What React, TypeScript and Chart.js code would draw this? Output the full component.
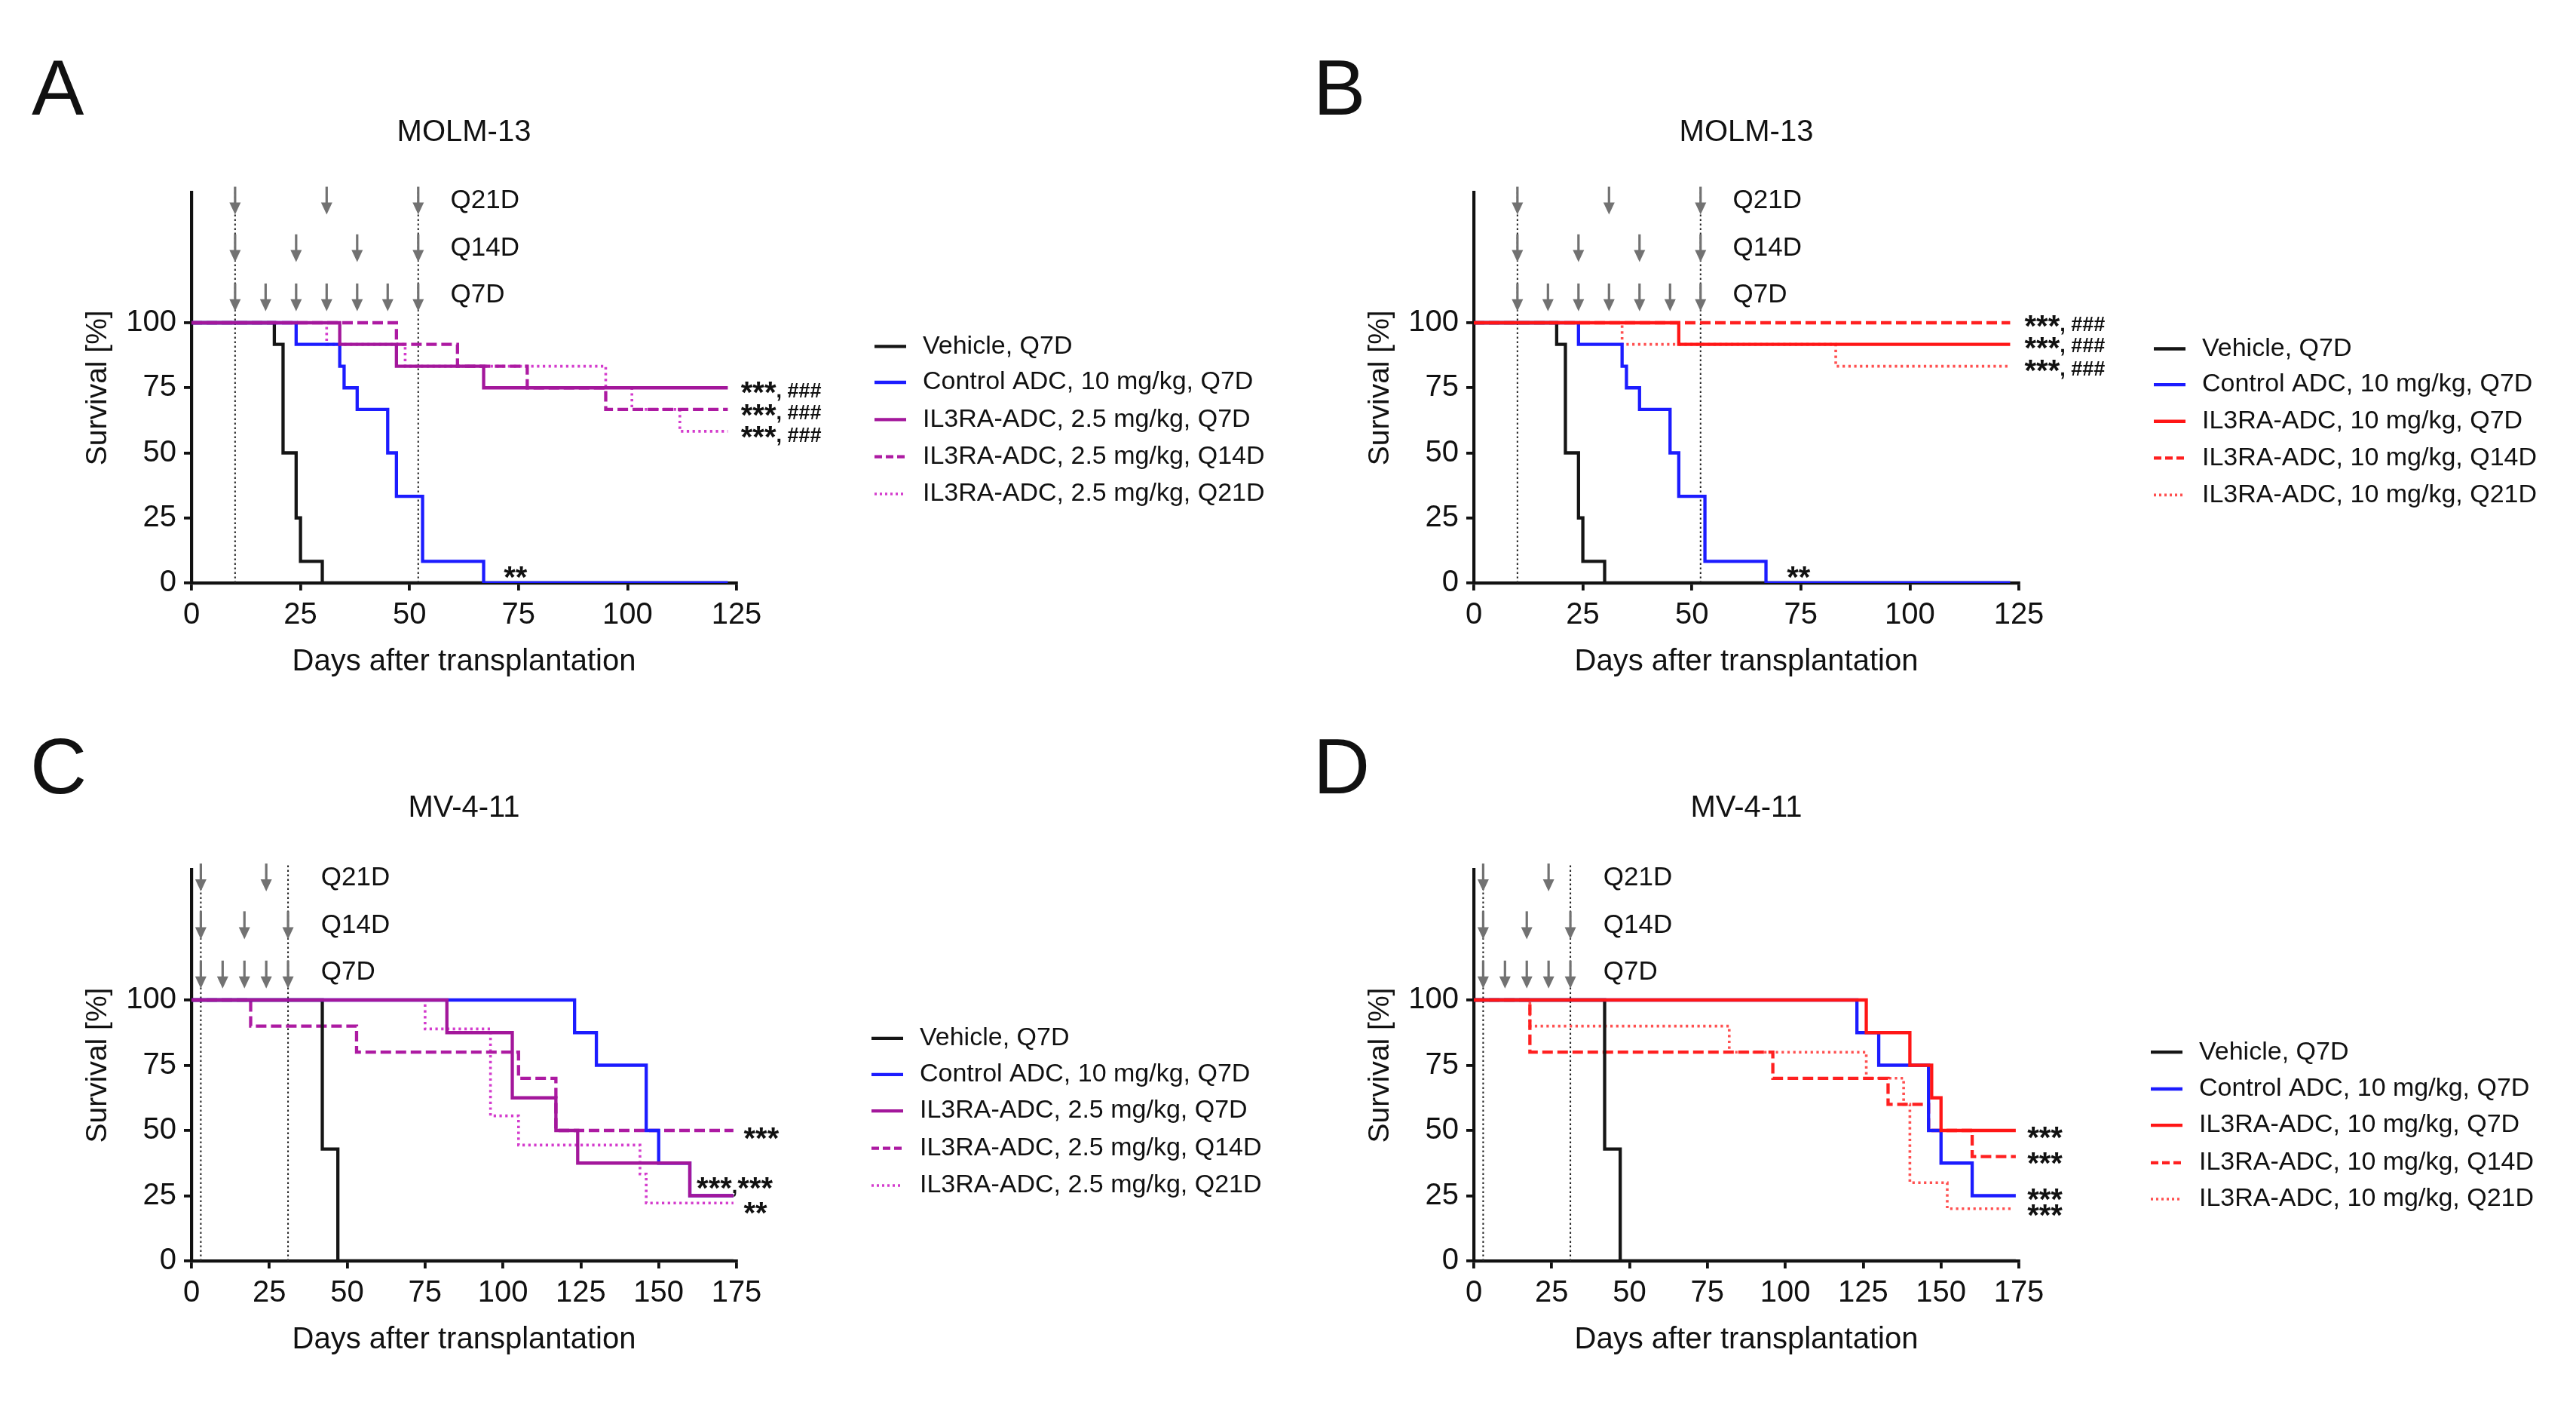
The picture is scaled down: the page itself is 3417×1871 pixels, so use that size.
import React, { useEffect, useRef } from 'react';
import { Chart, registerables } from 'chart.js';

Chart.register(...registerables);

const FONT = "'Liberation Sans', Arial, Helvetica, sans-serif";

// ---------------- DATA ----------------
// Axis ticks
const molmXTicks = [0, 25, 50, 75, 100, 125];
const mvXTicks = [0, 25, 50, 75, 100, 125, 150, 175];
const survivalTicks = [0, 25, 50, 75, 100];

// MOLM-13 (panels A and B)
const molmVehicleDays = [0, 19, 21, 24, 25, 30, 123];
const molmVehicleSurv = [100, 91.7, 50, 25, 8.3, 0, 0];
const molmControlDays = [0, 24, 34, 35, 38, 45, 47, 53, 67, 123];
const molmControlSurv = [100, 91.7, 83.3, 75, 66.7, 50, 33.3, 8.3, 0, 0];
const aQ7Days = [0, 34, 47, 67, 123];
const aQ7Surv = [100, 91.7, 83.3, 75, 75];
const aQ14Days = [0, 47, 61, 77, 95, 123];
const aQ14Surv = [100, 91.7, 83.3, 75, 66.7, 66.7];
const aQ21Days = [0, 31, 49, 95, 101, 112, 123];
const aQ21Surv = [100, 91.7, 83.3, 75, 66.7, 58.3, 58.3];
const bQ7Days = [0, 47, 123];
const bQ7Surv = [100, 91.7, 91.7];
const bQ14Days = [0, 123];
const bQ14Surv = [100, 100];
const bQ21Days = [0, 34, 83, 123];
const bQ21Surv = [100, 91.7, 83.3, 83.3];

// MV-4-11 (panels C and D)
const mvVehicleDays = [0, 42, 47, 174];
const mvVehicleSurv = [100, 42.9, 0, 0];
const mvControlDays = [0, 123, 130, 146, 150, 160, 174];
const mvControlSurv = [100, 87.5, 75, 50, 37.5, 25, 25];
const cQ7Days = [0, 82, 103, 117, 124, 160, 174];
const cQ7Surv = [100, 87.5, 62.5, 50, 37.5, 25, 25];
const cQ14Days = [0, 19, 53, 105, 117, 174];
const cQ14Surv = [100, 90, 80, 70, 50, 50];
const cQ21Days = [0, 75, 96, 105, 144, 146, 174];
const cQ21Surv = [100, 88.9, 55.6, 44.4, 33.3, 22.2, 22.2];
const dQ7Days = [0, 126, 140, 147, 150, 174];
const dQ7Surv = [100, 87.5, 75, 62.5, 50, 50];
const dQ14Days = [0, 18, 96, 133, 146, 160, 174];
const dQ14Surv = [100, 80, 70, 60, 50, 40, 40];
const dQ21Days = [0, 18, 82, 126, 138, 140, 152, 173];
const dQ21Surv = [100, 90, 80, 70, 60, 30, 20, 20];

// Dosing schedules (days)
const scheduleLabels = ['Q21D', 'Q14D', 'Q7D'];
const molmQ21Doses = [10, 31, 52];
const molmQ14Doses = [10, 24, 38, 52];
const molmQ7Doses = [10, 17, 24, 31, 38, 45, 52];
const molmRefDays = [10, 52];
const mvQ21Doses = [3, 24];
const mvQ14Doses = [3, 17, 31];
const mvQ7Doses = [3, 10, 17, 24, 31];
const mvRefDays = [3, 31];

// Legend labels
const lowDoseLabels = [
  'Vehicle, Q7D',
  'Control ADC, 10 mg/kg, Q7D',
  'IL3RA-ADC, 2.5 mg/kg, Q7D',
  'IL3RA-ADC, 2.5 mg/kg, Q14D',
  'IL3RA-ADC, 2.5 mg/kg, Q21D',
];
const highDoseLabels = [
  'Vehicle, Q7D',
  'Control ADC, 10 mg/kg, Q7D',
  'IL3RA-ADC, 10 mg/kg, Q7D',
  'IL3RA-ADC, 10 mg/kg, Q14D',
  'IL3RA-ADC, 10 mg/kg, Q21D',
];

// Significance texts
const sigA = ['***, ###', '***, ###', '***, ###', '**'];
const sigB = ['***, ###', '***, ###', '***, ###', '**'];
const sigC = ['***', '***,***', '**'];
const sigD = ['***', '***', '***', '***'];

// ---------------- STYLES / LAYOUT ----------------
const C_BLACK = '#151515';
const C_BLUE = '#1c1cff';
const C_PURPLE = '#a3179b';
const C_PURPLE_DASH = '#ad1aa2';
const C_PURPLE_DOT = '#d43ccd';
const C_RED = '#ff1616';
const C_RED_DASH = '#ff2020';
const C_RED_DOT = '#ff5050';

const DASH = [14, 6];
const DOT = [3.2, 4.5];
const W_SOLID = 4.3;
const W_DASH = 4.3;
const W_DOT = 3.6;

const YW = 200; // y-axis box width
const ARROW_TIPS = [141.6, 123.3, 104.4];
const ARROW_LEN = 10.7;
const SCHED_LABEL_Y = [146.8, 128.5, 110.6];

type Series = { days: number[]; surv: number[]; color: string; dash: number[]; width: number; order: number };
type Note = { text: string; x: number; y: number };

type Panel = {
  key: string;
  letter: string;
  title: string;
  left: number;
  top: number;
  w: number;
  h: number;
  chartLeft: number;
  chartRight: number;
  chartTop: number;
  chartBottom: number;
  xMax: number;
  xTicks: number[];
  series: Series[];
  labels: string[];
  doses: number[][];
  refDays: number[];
  schedX: number;
  legendRows: number[];
  legendLineX: number;
  notes: Note[];
  letterX: number;
  letterY: number;
  titleY: number;
};

function mkSeries(days: number[], surv: number[], color: string, dash: number[], width: number, order: number): Series {
  return { days, surv, color, dash, width, order };
}

const panels: Panel[] = [
  {
    key: 'A', letter: 'A', title: 'MOLM-13',
    left: 0, top: 0, w: 1708, h: 935,
    chartLeft: 254, chartRight: 977, chartTop: 255.5, chartBottom: 773,
    xMax: 125, xTicks: molmXTicks,
    series: [
      mkSeries(molmVehicleDays, molmVehicleSurv, C_BLACK, [], W_SOLID, 2),
      mkSeries(molmControlDays, molmControlSurv, C_BLUE, [], W_SOLID, 1),
      mkSeries(aQ7Days, aQ7Surv, C_PURPLE, [], W_SOLID, 0),
      mkSeries(aQ14Days, aQ14Surv, C_PURPLE_DASH, DASH, W_DASH, 3),
      mkSeries(aQ21Days, aQ21Surv, C_PURPLE_DOT, DOT, W_DOT, 4),
    ],
    labels: lowDoseLabels,
    doses: [molmQ21Doses, molmQ14Doses, molmQ7Doses],
    refDays: molmRefDays,
    schedX: 59.4,
    legendRows: [90.9, 77.1, 62.8, 48.5, 34.2],
    legendLineX: 906,
    notes: [
      { text: sigA[0], x: 126, y: 73.5 },
      { text: sigA[1], x: 126, y: 65 },
      { text: sigA[2], x: 126, y: 56.5 },
      { text: sigA[3], x: 71.6, y: 2.6 },
    ],
    letterX: 42, letterY: 152, titleY: 176,
  },
  {
    key: 'B', letter: 'B', title: 'MOLM-13',
    left: 1708, top: 0, w: 1709, h: 935,
    chartLeft: 247, chartRight: 970, chartTop: 255.5, chartBottom: 773,
    xMax: 125, xTicks: molmXTicks,
    series: [
      mkSeries(molmVehicleDays, molmVehicleSurv, C_BLACK, [], W_SOLID, 2),
      mkSeries(molmControlDays, molmControlSurv, C_BLUE, [], W_SOLID, 1),
      mkSeries(bQ7Days, bQ7Surv, C_RED, [], W_SOLID, 0),
      mkSeries(bQ14Days, bQ14Surv, C_RED_DASH, DASH, W_DASH, 3),
      mkSeries(bQ21Days, bQ21Surv, C_RED_DOT, DOT, W_DOT, 4),
    ],
    labels: highDoseLabels,
    doses: [molmQ21Doses, molmQ14Doses, molmQ7Doses],
    refDays: molmRefDays,
    schedX: 59.4,
    legendRows: [90, 76.2, 62.1, 48.0, 33.8],
    legendLineX: 902,
    notes: [
      { text: sigB[0], x: 126.3, y: 99 },
      { text: sigB[1], x: 126.3, y: 90.8 },
      { text: sigB[2], x: 126.3, y: 82 },
      { text: sigB[3], x: 71.8, y: 2.6 },
    ],
    letterX: 34, letterY: 152, titleY: 176,
  },
  {
    key: 'C', letter: 'C', title: 'MV-4-11',
    left: 0, top: 935, w: 1708, h: 936,
    chartLeft: 254, chartRight: 977, chartTop: 218, chartBottom: 737,
    xMax: 175, xTicks: mvXTicks,
    series: [
      mkSeries(mvVehicleDays, mvVehicleSurv, C_BLACK, [], W_SOLID, 2),
      mkSeries(mvControlDays, mvControlSurv, C_BLUE, [], W_SOLID, 1),
      mkSeries(cQ7Days, cQ7Surv, C_PURPLE, [], W_SOLID, 0),
      mkSeries(cQ14Days, cQ14Surv, C_PURPLE_DASH, DASH, W_DASH, 3),
      mkSeries(cQ21Days, cQ21Surv, C_PURPLE_DOT, DOT, W_DOT, 4),
    ],
    labels: lowDoseLabels,
    doses: [mvQ21Doses, mvQ14Doses, mvQ7Doses],
    refDays: mvRefDays,
    schedX: 41.6,
    legendRows: [85.3, 71.4, 57.5, 43.2, 28.9],
    legendLineX: 902,
    notes: [
      { text: sigC[0], x: 177.3, y: 47.5 },
      { text: sigC[1], x: 162.2, y: 28.3 },
      { text: sigC[2], x: 177.3, y: 18.8 },
    ],
    letterX: 40, letterY: 117, titleY: 137,
  },
  {
    key: 'D', letter: 'D', title: 'MV-4-11',
    left: 1708, top: 935, w: 1709, h: 936,
    chartLeft: 247, chartRight: 970, chartTop: 218, chartBottom: 737,
    xMax: 175, xTicks: mvXTicks,
    series: [
      mkSeries(mvVehicleDays, mvVehicleSurv, C_BLACK, [], W_SOLID, 2),
      mkSeries(mvControlDays, mvControlSurv, C_BLUE, [], W_SOLID, 1),
      mkSeries(dQ7Days, dQ7Surv, C_RED, [], W_SOLID, 0),
      mkSeries(dQ14Days, dQ14Surv, C_RED_DASH, DASH, W_DASH, 3),
      mkSeries(dQ21Days, dQ21Surv, C_RED_DOT, DOT, W_DOT, 4),
    ],
    labels: highDoseLabels,
    doses: [mvQ21Doses, mvQ14Doses, mvQ7Doses],
    refDays: mvRefDays,
    schedX: 41.6,
    legendRows: [80, 65.9, 52, 37.6, 23.7],
    legendLineX: 898,
    notes: [
      { text: sigD[0], x: 177.7, y: 47.8 },
      { text: sigD[1], x: 177.7, y: 37.8 },
      { text: sigD[2], x: 177.7, y: 23.9 },
      { text: sigD[3], x: 177.7, y: 17.9 },
    ],
    letterX: 34, letterY: 117, titleY: 137,
  },
];

// draws a significance note: star runs large & bold, other characters smaller
function drawNote(ctx: CanvasRenderingContext2D, text: string, px: number, py: number) {
  const runs = text.match(/\*+|[^*]+/g) || [];
  let cx = px;
  for (const run of runs) {
    if (run[0] === '*') {
      ctx.font = `bold 40px ${FONT}`;
      ctx.fillText(run, cx, py + 4);
    } else {
      ctx.font = `bold 27px ${FONT}`;
      ctx.fillText(run, cx, py);
    }
    cx += ctx.measureText(run).width;
  }
}

function makeExtras(p: Panel) {
  return {
    id: 'extras' + p.key,
    beforeDatasetsDraw(chart: any) {
      const { ctx } = chart;
      const x = chart.scales.x;
      const y = chart.scales.y;
      ctx.save();
      ctx.strokeStyle = '#222';
      ctx.lineWidth = 2;
      ctx.setLineDash([2.5, 3.5]);
      for (const d of p.refDays) {
        const px = x.getPixelForValue(d);
        ctx.beginPath();
        ctx.moveTo(px, y.getPixelForValue(0));
        ctx.lineTo(px, y.getPixelForValue(152));
        ctx.stroke();
      }
      ctx.restore();
    },
    afterDraw(chart: any) {
      const { ctx, chartArea } = chart;
      const x = chart.scales.x;
      const y = chart.scales.y;
      ctx.save();
      // dosing arrows
      ctx.fillStyle = '#727272';
      ctx.strokeStyle = '#727272';
      ctx.setLineDash([]);
      p.doses.forEach((row, r) => {
        const tip = y.getPixelForValue(ARROW_TIPS[r]);
        const topY = y.getPixelForValue(ARROW_TIPS[r] + ARROW_LEN);
        for (const d of row) {
          const px = x.getPixelForValue(d);
          ctx.lineWidth = 3.2;
          ctx.beginPath();
          ctx.moveTo(px, topY);
          ctx.lineTo(px, tip - 12);
          ctx.stroke();
          ctx.beginPath();
          ctx.moveTo(px - 7.5, tip - 16);
          ctx.lineTo(px + 7.5, tip - 16);
          ctx.lineTo(px, tip);
          ctx.closePath();
          ctx.fill();
        }
      });
      // schedule labels
      ctx.fillStyle = '#111';
      ctx.font = `35px ${FONT}`;
      ctx.textAlign = 'left';
      ctx.textBaseline = 'middle';
      scheduleLabels.forEach((t, r) => {
        ctx.fillText(t, x.getPixelForValue(p.schedX), y.getPixelForValue(SCHED_LABEL_Y[r]));
      });
      // significance notes
      for (const n of p.notes) {
        drawNote(ctx, n.text, x.getPixelForValue(n.x), y.getPixelForValue(n.y));
      }
      // legend
      ctx.font = `34px ${FONT}`;
      p.series.forEach((s, i) => {
        const yy = y.getPixelForValue(p.legendRows[i]);
        const lx = chartArea.left + p.legendLineX;
        ctx.strokeStyle = s.color;
        ctx.lineWidth = s.width;
        ctx.setLineDash(s.dash.length ? (s.dash === DASH ? [10, 5] : [3, 4]) : []);
        ctx.beginPath();
        ctx.moveTo(lx, yy);
        ctx.lineTo(lx + 42, yy);
        ctx.stroke();
        ctx.setLineDash([]);
        ctx.fillStyle = '#111';
        ctx.fillText(p.labels[i], lx + 64, yy);
      });
      // title
      ctx.font = `40px ${FONT}`;
      ctx.textAlign = 'center';
      ctx.fillText(p.title, (chartArea.left + chartArea.right) / 2, p.titleY);
      // panel letter
      ctx.font = `104px ${FONT}`;
      ctx.textAlign = 'left';
      ctx.textBaseline = 'alphabetic';
      ctx.fillText(p.letter, p.letterX, p.letterY);
      ctx.restore();
    },
  };
}

function PanelChart({ p }: { p: Panel }) {
  const ref = useRef<HTMLCanvasElement | null>(null);
  useEffect(() => {
    if (!ref.current) return;
    const axisColor = '#111';
    const chart = new Chart(ref.current, {
      type: 'line',
      data: {
        datasets: p.series.map((s, i) => ({
          label: p.labels[i],
          data: s.days.map((d, k) => ({ x: d, y: s.surv[k] })),
          borderColor: s.color,
          backgroundColor: s.color,
          borderWidth: s.width,
          borderDash: s.dash,
          stepped: 'before' as const,
          pointRadius: 0,
          fill: false,
          order: s.order,
        })),
      },
      options: {
        animation: false,
        responsive: false,
        devicePixelRatio: 1,
        layout: {
          padding: {
            left: p.chartLeft - YW,
            right: p.w - p.chartRight,
            top: p.chartTop,
            bottom: 0,
          },
        },
        plugins: {
          legend: { display: false },
          tooltip: { enabled: false },
          title: { display: false },
        },
        scales: {
          x: {
            type: 'linear',
            min: 0,
            max: p.xMax,
            afterBuildTicks: (sc: any) => {
              sc.ticks = p.xTicks.map((v) => ({ value: v }));
            },
            afterFit: (sc: any) => {
              sc.height = p.h - p.chartBottom;
            },
            ticks: {
              font: { size: 40, family: FONT },
              color: axisColor,
              padding: 9,
              maxRotation: 0,
              autoSkip: false,
            },
            grid: {
              display: true,
              drawOnChartArea: false,
              drawTicks: true,
              tickLength: 10,
              lineWidth: 3.8,
              tickWidth: 3.8,
              tickColor: axisColor,
              color: axisColor,
            },
            border: { display: true, width: 4.2, color: axisColor },
            title: {
              display: true,
              text: 'Days after transplantation',
              font: { size: 40, family: FONT },
              color: axisColor,
              padding: { top: 0, bottom: p.h - p.chartBottom - 105 - 24 },
            },
          },
          y: {
            type: 'linear',
            min: 0,
            max: 150,
            afterBuildTicks: (sc: any) => {
              sc.ticks = survivalTicks.map((v) => ({ value: v }));
            },
            afterFit: (sc: any) => {
              sc.width = YW;
            },
            ticks: {
              font: { size: 40, family: FONT },
              color: axisColor,
              padding: 10,
              autoSkip: false,
            },
            grid: {
              display: true,
              drawOnChartArea: false,
              drawTicks: true,
              tickLength: 10,
              lineWidth: 3.8,
              tickWidth: 3.8,
              tickColor: axisColor,
              color: axisColor,
            },
            border: { display: true, width: 4.2, color: axisColor },
            title: {
              display: true,
              text: 'Survival [%]',
              font: { size: 39, family: FONT },
              color: axisColor,
              padding: { top: YW - 123 - 24, bottom: 0 },
            },
          },
        },
      },
      plugins: [makeExtras(p)],
    } as any);
    return () => chart.destroy();
  }, [p]);
  return (
    <canvas
      ref={ref}
      width={p.w}
      height={p.h}
      style={{ position: 'absolute', left: p.left, top: p.top, width: p.w, height: p.h }}
    />
  );
}

export default function App() {
  return (
    <div
      style={{
        position: 'fixed',
        left: 0,
        top: 0,
        width: 3417,
        height: 1871,
        background: '#ffffff',
        overflow: 'hidden',
      }}
    >
      {panels.map((p) => (
        <PanelChart key={p.key} p={p} />
      ))}
    </div>
  );
}
